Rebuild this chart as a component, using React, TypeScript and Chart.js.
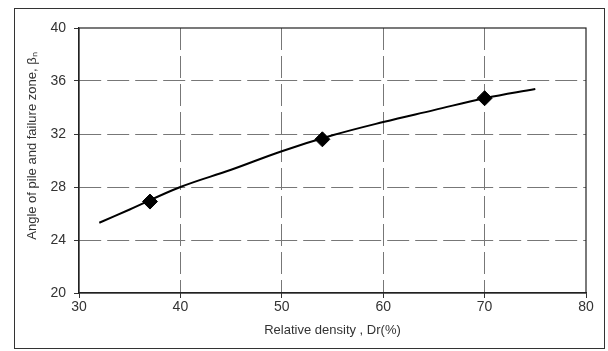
import React, { useEffect, useRef } from "react";
import { Chart, registerables } from "chart.js";

Chart.register(...registerables);

const CURVE_X = [32, 35, 40, 45, 50, 55, 60, 65, 70, 75];
const CURVE_Y = [25.3, 26.3, 28.0, 29.3, 30.7, 31.9, 32.9, 33.8, 34.7, 35.4];
const MARK_X = [37, 54, 70];
const MARK_Y = [26.9, 31.6, 34.7];
const X_TITLE = "Relative density , Dr(%)";
const Y_TITLE = "Angle of pile and failure zone, \u03B2\u2099";

const frame = {
  id: "frameBox",
  afterDatasetsDraw(chart: any) {
    const { ctx, chartArea } = chart;
    ctx.save();
    ctx.strokeStyle = "#222";
    ctx.lineWidth = 1.2;
    ctx.strokeRect(chartArea.left, chartArea.top, chartArea.right - chartArea.left, chartArea.bottom - chartArea.top);
    ctx.restore();
  },
};

export default function App() {
  const ref = useRef<HTMLCanvasElement | null>(null);
  useEffect(() => {
    if (!ref.current) return;
    const font = { family: "'Liberation Sans', Arial, sans-serif", size: 13 };
    const tickFont = { family: "'Liberation Sans', Arial, sans-serif", size: 14 };
    const gridColor = (c: any) =>
      c.index === 0 || c.index === c.chart.scales[c.scale.id].ticks.length - 1 ? "rgba(0,0,0,0)" : "#777";
    const chart = new Chart(ref.current, {
      type: "scatter",
      data: {
        datasets: [
          {
            data: CURVE_X.map((x, i) => ({ x, y: CURVE_Y[i] })),
            showLine: true,
            borderColor: "#000",
            borderWidth: 2,
            pointRadius: 0,
            tension: 0.4,
            order: 2,
          },
          {
            data: MARK_X.map((x, i) => ({ x, y: MARK_Y[i] })),
            showLine: false,
            pointStyle: "rectRot",
            pointRadius: 7.5,
            backgroundColor: "#000",
            borderColor: "#000",
            order: 1,
          },
        ],
      },
      options: {
        animation: false,
        responsive: false,
        maintainAspectRatio: false,
        layout: { padding: { top: 28, right: 22, left: 0, bottom: 0 } },
        plugins: { legend: { display: false }, tooltip: { enabled: false } },
        scales: {
          x: {
            type: "linear",
            min: 30,
            max: 80,
            ticks: { stepSize: 10, color: "#333", font: tickFont, padding: 1 },
            grid: { color: gridColor, lineWidth: 1, tickLength: 5, tickColor: "#333" },
            border: { display: true, color: "#222", width: 1.2, dash: [22, 6] },
            title: { display: true, text: X_TITLE, color: "#333", font, padding: { top: 0, bottom: 13 } },
            afterFit: (s: any) => {
              s.height = 58;
            },
          },
          y: {
            type: "linear",
            min: 20,
            max: 40,
            ticks: { stepSize: 4, color: "#333", font: tickFont, padding: 8 },
            grid: { color: gridColor, lineWidth: 1, tickLength: 5, tickColor: "#333" },
            border: { display: true, color: "#222", width: 1.2, dash: [22, 6] },
            title: {
              display: true,
              text: "        " + Y_TITLE,
              color: "#333",
              font,
              padding: { top: 25, bottom: 0 },
            },
            afterFit: (s: any) => {
              s.width = 79;
            },
          },
        },
      },
      plugins: [frame],
    });
    return () => chart.destroy();
  }, []);
  return (
    <div style={{ position: "absolute", left: 0, top: 0, width: 608, height: 351, background: "#fff" }}>
      <div
        style={{
          position: "absolute",
          left: 14,
          top: 8,
          width: 591,
          height: 341,
          border: "1px solid #333",
          boxSizing: "border-box",
        }}
      />
      <canvas ref={ref} width={608} height={351} style={{ position: "absolute", left: 0, top: 0 }} />
    </div>
  );
}
